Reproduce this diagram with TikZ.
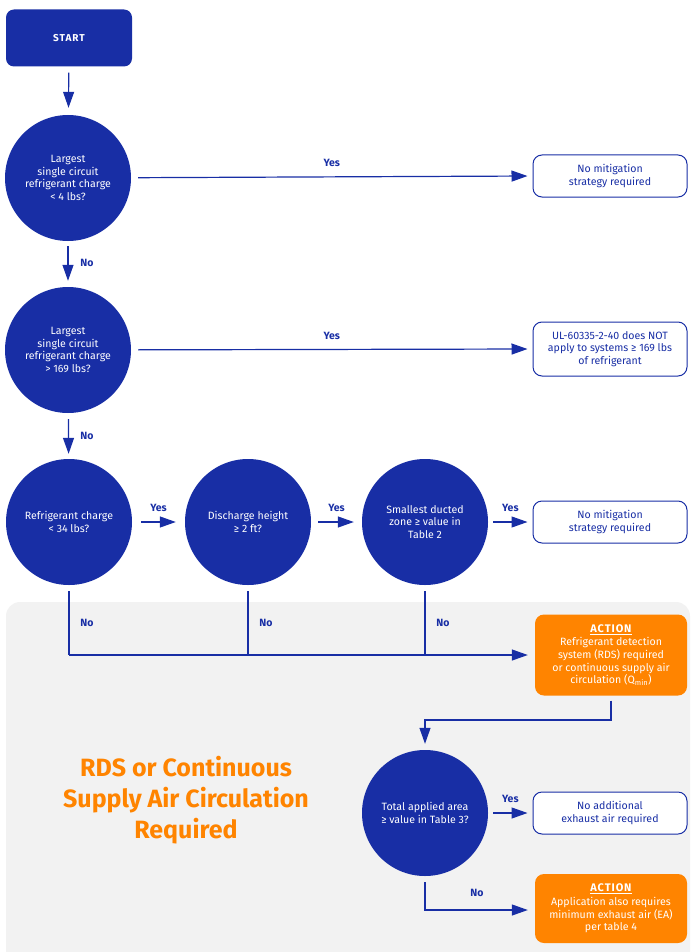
\documentclass[tikz,border=0pt]{standalone}
\usepackage{fontspec}
\setmainfont{Fira Sans}
\usetikzlibrary{arrows.meta,positioning}
\definecolor{navy}{RGB}{24,46,165}
\definecolor{amber}{RGB}{255,132,0}
\definecolor{panel}{RGB}{242,242,242}
\newcommand{\smalltxt}{\fontsize{10.6}{12.6}\selectfont}
\begin{document}
\begin{tikzpicture}[x=1pt,y=-1pt,
    startbox/.style={fill=navy,rounded corners=8pt,minimum width=126pt,minimum height=57pt,
        text=white,font=\fontsize{10}{12}\selectfont\bfseries\addfontfeatures{LetterSpace=10}},
    decision/.style={circle,fill=navy,text=white,minimum size=126pt,inner sep=0pt,
        align=center,font=\smalltxt},
    result/.style={draw=navy,line width=1pt,rounded corners=9pt,fill=white,text=navy,
        minimum width=154pt,align=center,font=\smalltxt},
    action/.style={fill=amber,rounded corners=9pt,text=white,minimum width=152pt,
        align=center,font=\smalltxt},
    line/.style={draw=navy,line width=1.2pt},
    flow/.style={line,-{Triangle[length=16pt,width=11pt]}},
    lbl/.style={text=navy,font=\fontsize{10.5}{12}\selectfont\bfseries}]
    \useasboundingbox (0,0) rectangle (690,952);

    % shaded panel
    \fill[panel,rounded corners=14pt] (6,602) rectangle (690,990);

    % start and first checks
    \node[startbox] (start) at (69,38) {START};
    \node[decision] (q1) at (68,178) {Largest\\single circuit\\refrigerant charge\\< 4 lbs?};
    \node[result,minimum height=42pt] (r1) at (610,176) {No mitigation\\strategy required};
    \node[decision] (q2) at (68,350) {Largest\\single circuit\\refrigerant charge\\> 169 lbs?};
    \node[result,minimum height=54pt] (r2) at (610,349) {UL-60335-2-40 does NOT\\apply to systems ≥ 169 lbs\\of refrigerant};

    % row of three checks
    \node[decision] (q3) at (69,522) {Refrigerant charge\\< 34 lbs?};
    \node[decision] (q4) at (248,522) {Discharge height\\≥ 2 ft?};
    \node[decision] (q5) at (425,522) {Smallest ducted\\zone ≥ value in\\Table 2};
    \node[result,minimum height=42pt] (r3) at (610,522) {No mitigation\\strategy required};

    \draw[flow,shorten <=6pt,shorten >=7pt] (start) -- (q1);
    \draw[flow,shorten <=7pt,shorten >=5pt] (q1) -- (r1.west) node[lbl,pos=0.5,above=6pt] {Yes};
    \draw[flow,shorten <=5pt,shorten >=6pt] (q1) -- (q2);
    \node[lbl] at (87,263) {No};
    \draw[flow,shorten <=7pt,shorten >=5pt] (q2) -- (r2.west) node[lbl,pos=0.5,above=6pt] {Yes};
    \draw[flow,shorten <=6pt,shorten >=5pt] (q2) -- (q3);
    \node[lbl] at (87,436) {No};

    \draw[flow,shorten <=9pt,shorten >=9pt] (q3) -- (q4) node[lbl,pos=0.5,above=6pt] {Yes};
    \draw[flow,shorten <=7pt,shorten >=8pt] (q4) -- (q5) node[lbl,pos=0.5,above=6pt] {Yes};
    \draw[flow,shorten <=5pt,shorten >=5pt] (q5) -- (r3.west) node[lbl,pos=0.5,above=6pt] {Yes};

    % no branches join
    \node[action,minimum height=81pt] (act1) at (611,655) {{\fontsize{11}{13}\selectfont\bfseries\addfontfeatures{LetterSpace=8}\underline{ACTION}}\\[1pt]
        Refrigerant detection\\system (RDS) required\\or continuous supply air\\circulation (Q\textsubscript{min})};
    \coordinate (j3) at (69,655);
    \coordinate (j4) at (248,655);
    \coordinate (j5) at (425,655);
    \draw[line,shorten <=6pt] (q3) -- (j3);
    \draw[line,shorten <=6pt] (q4) -- (j4);
    \draw[line,shorten <=6pt] (q5) -- (j5);
    \draw[flow,shorten >=7pt] (j3) -- (act1.west);
    \node[lbl] at (87,623) {No};
    \node[lbl] at (266,623) {No};
    \node[lbl] at (443,623) {No};

    % area check
    \node[decision] (q6) at (425,813) {Total applied area\\≥ value in Table 3?};
    \node[result,minimum height=42pt] (r4) at (610,813) {No additional\\exhaust air required};
    \node[action,minimum height=69pt] (act2) at (611,908.5) {{\fontsize{11}{13}\selectfont\bfseries\addfontfeatures{LetterSpace=8}\underline{ACTION}}\\[1pt]
        Application also requires\\minimum exhaust air (EA)\\per table 4};
    \coordinate (k1) at (611,720);
    \coordinate (k2) at (425,720);
    \coordinate (k3) at (425,910);
    \draw[flow,shorten <=5pt,shorten >=6pt] (act1) -- (k1) -- (k2) -- (q6);
    \draw[flow,shorten <=5pt,shorten >=5pt] (q6) -- (r4.west) node[lbl,pos=0.5,above=6pt] {Yes};
    \draw[flow,shorten <=6pt,shorten >=7pt] (q6) -- (k3) -- (act2.west |- k3);
    \node[lbl] at (477,893) {No};

    % panel heading
    \node[text=amber,align=center,font=\fontsize{25}{31}\selectfont\bfseries] (title) at (186,800)
        {RDS or Continuous\\Supply Air Circulation\\Required};
\end{tikzpicture}
\end{document}
